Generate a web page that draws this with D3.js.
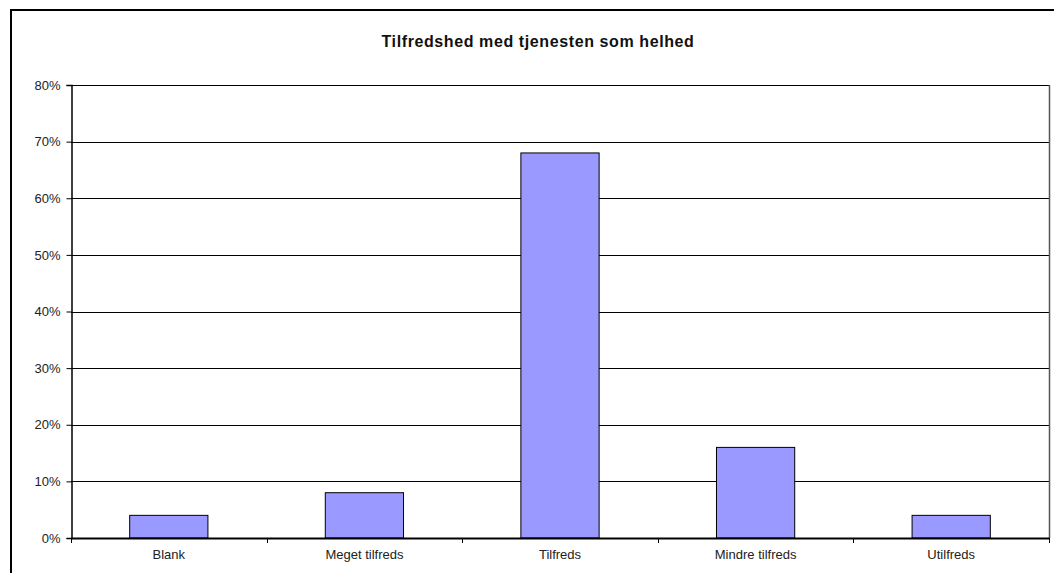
<!DOCTYPE html>
<html><head><meta charset="utf-8">
<script src="https://cdn.jsdelivr.net/npm/d3@7"></script>
<style>body{margin:0;background:#fff;} svg{display:block;font-family:"Liberation Sans",Arial,sans-serif;}</style>
</head><body>
<svg id="c" width="1054" height="573"></svg>
<script>
const categories = ["Blank","Meget tilfreds","Tilfreds","Mindre tilfreds","Utilfreds"];
const values = [0.04,0.08,0.68,0.16,0.04];
const yTicks = [0,0.1,0.2,0.3,0.4,0.5,0.6,0.7,0.8];
const title = "Tilfredshed med tjenesten som helhed";

const svg = d3.select("#c");
const L=71, R=1049, T=85, B=538;
svg.append("rect").attr("x",11).attr("y",10).attr("width",1060).attr("height",600)
  .attr("fill","#fff").attr("stroke","#000").attr("stroke-width",2);

const x = d3.scaleBand().domain(categories).range([L,R]).paddingInner(0).paddingOuter(0);
const y = d3.scaleLinear().domain([0,0.8]).range([B,T]);

// gridlines
svg.append("g").selectAll("line").data(yTicks.filter(d=>d>0)).join("line")
  .attr("x1",L).attr("x2",R).attr("y1",d=>Math.round(y(d))+0.5).attr("y2",d=>Math.round(y(d))+0.5)
  .attr("stroke","#000").attr("stroke-width",1);
// right border of plot
svg.append("line").attr("x1",R+0.5).attr("x2",R+0.5).attr("y1",T).attr("y2",B).attr("stroke","#555").attr("stroke-width",1.5);

// bars
const bw = x.bandwidth()*0.4;
svg.append("g").selectAll("rect").data(categories).join("rect")
  .attr("x",d=>x(d)+(x.bandwidth()-bw)/2)
  .attr("y",(d,i)=>y(values[i]))
  .attr("width",bw)
  .attr("height",(d,i)=>B-y(values[i]))
  .attr("fill","#9999FF").attr("stroke","#000").attr("stroke-width",1);

// y axis
const ya = d3.axisLeft(y).tickValues(yTicks).tickFormat(d3.format(".0%")).tickSize(5).tickPadding(6);
const gy = svg.append("g").attr("transform",`translate(${L+0.5},0)`).call(ya);
gy.select(".domain").attr("stroke","#000").attr("stroke-width",1.5);
gy.selectAll("text").attr("font-size",13).attr("fill","#222").attr("font-family","Liberation Sans, Arial, sans-serif");
gy.selectAll(".tick line").attr("stroke","#000");

// x axis
const xa = d3.axisBottom(x).tickSize(0).tickPadding(12);
const gx = svg.append("g").attr("transform",`translate(0,${B})`).call(xa);
gx.select(".domain").attr("stroke","#000").attr("stroke-width",2);
gx.selectAll("text").attr("font-size",13).attr("fill","#222").attr("font-family","Liberation Sans, Arial, sans-serif");
// category boundary ticks
const bounds = categories.map(c=>x(c)).concat([R]);
svg.append("g").selectAll("line").data(bounds).join("line")
  .attr("x1",d=>Math.round(d)+0.5).attr("x2",d=>Math.round(d)+0.5).attr("y1",B).attr("y2",B+5)
  .attr("stroke","#000").attr("stroke-width",1);

svg.append("text").attr("x",538).attr("y",47).attr("text-anchor","middle")
  .attr("font-size",16).attr("font-weight","bold").attr("letter-spacing",0.6).attr("fill","#111").text(title);
</script>
</body></html>
